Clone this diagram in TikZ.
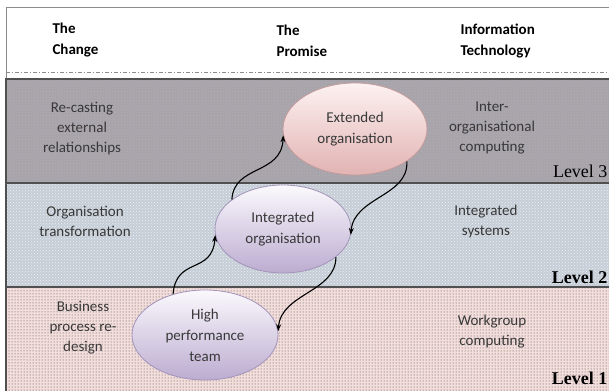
\documentclass[tikz,border=0pt]{standalone}
\usepackage{fontspec}
\setmainfont{Carlito}
\newfontfamily\levelfont{Liberation Serif}
\usetikzlibrary{arrows.meta, positioning, patterns, shapes.geometric}

\definecolor{framegrey}{HTML}{8C8C8C}
\definecolor{bandline}{HTML}{505050}
\definecolor{bandthree}{HTML}{A8A3AB}
\definecolor{bandtwo}{HTML}{C5CDD6}
\definecolor{bandone}{HTML}{F3DEDC}
\definecolor{txtgrey}{HTML}{383838}
\definecolor{pinktop}{HTML}{FDF1F1}
\definecolor{pinkbot}{HTML}{E2B3B3}
\definecolor{pinkedge}{HTML}{C49A9A}
\definecolor{liltop}{HTML}{FBF9FD}
\definecolor{lilbot}{HTML}{BCACD0}
\definecolor{liledge}{HTML}{A394BA}

\tikzset{
  label/.style={align=center, text=txtgrey, font=\fontsize{15}{20}\selectfont},
  head/.style={anchor=west, align=left, text=black, font=\bfseries\fontsize{15}{21}\selectfont},
  level/.style={anchor=east, font=\levelfont\fontsize{18}{20}\selectfont},
  stage/.style={ellipse, draw=liledge, line width=0.8pt, inner sep=0pt,
                top color=liltop, bottom color=lilbot, align=center,
                text=txtgrey, font=\fontsize{15}{21}\selectfont},
  flow/.style={->, line width=1.1pt, black},
  bandedge/.style={draw=bandline, line width=1.3pt}
}

\begin{document}
\begin{tikzpicture}[x=1pt, y=-1pt, >={Stealth[length=7pt,width=5pt]}]
\useasboundingbox (0,0) rectangle (609,390);

% Header strip
\fill[white] (0,0) rectangle (609,390);
\draw[framegrey, line width=1pt] (620,7.5) -- (6,7.5) -- (6,79);
\draw[framegrey, line width=0.8pt, dash pattern=on 4pt off 2pt on 1pt off 2pt] (6,72) -- (620,72);

% Level bands
\fill[bandthree] (6,79) rectangle (620,183);
\fill[pattern=crosshatch dots, pattern color=black!30] (6,79) rectangle (620,183);
\fill[bandtwo] (6,183) rectangle (620,287);
\fill[pattern=crosshatch dots, pattern color=white!70!bandtwo] (6,183) rectangle (620,287);
\fill[bandone] (6,287) rectangle (620,395);
\fill[pattern=dots, pattern color=black!75] (6,287) rectangle (620,395);
\draw[bandedge] (620,79) -- (6,79) -- (6,395);
\draw[bandedge] (6,183) -- (620,183);
\draw[bandedge] (6,287) -- (620,287);

% Column heads
\node[head] (hdchange) at (49,40.5) {The\\Change};
\node[head] (hdpromise) at (273,40.5) {The\\Promise};
\node[head] (hdit) at (457,40.5) {Information\\Technology};

% Level 3
\node[label] (chg3) at (82,129) {Re-casting\\external\\relationships};
\node[label] (it3) at (492,128) {Inter-\\organisational\\computing};
\node[level] (lvl3) at (611,171) {Level 3};

% Level 2
\node[label] (chg2) at (85,221.5) {Organisation\\transformation};
\node[label] (it2) at (486,221.5) {Integrated\\systems};
\node[level, font=\levelfont\bfseries\fontsize{18}{20}\selectfont] (lvl2) at (611,277) {Level 2};

% Level 1
\node[label] (chg1) at (83,328) {Business\\process re-\\design};
\node[label] (it1) at (492,332) {Workgroup\\computing};
\node[level, font=\levelfont\bfseries\fontsize{18}{20}\selectfont] (lvl1) at (611,378) {Level 1};

% The three stages
\node[stage, top color=pinktop, bottom color=pinkbot, draw=pinkedge,
      minimum width=144pt, minimum height=92pt] (ext) at (355,129) {Extended\\organisation};
\node[stage, minimum width=136pt, minimum height=88pt] (integ) at (283,229) {Integrated\\organisation};
\node[stage, minimum width=146pt, minimum height=90pt] (high) at (205,335) {High\\performance\\team};

% Paths between stages
\draw[flow] (high.128) .. controls +(3,-38) and +(-3,40) .. (integ.185);
\draw[flow] (integ.150) .. controls +(2,-35) and +(-2,40) .. (ext.185);
\draw[flow] (ext.-32) .. controls +(2,35) and +(3,-38) .. (integ.-5);
\draw[flow] (integ.-28) .. controls +(0,35) and +(3,-38) .. (high.3);
\end{tikzpicture}
\end{document}
